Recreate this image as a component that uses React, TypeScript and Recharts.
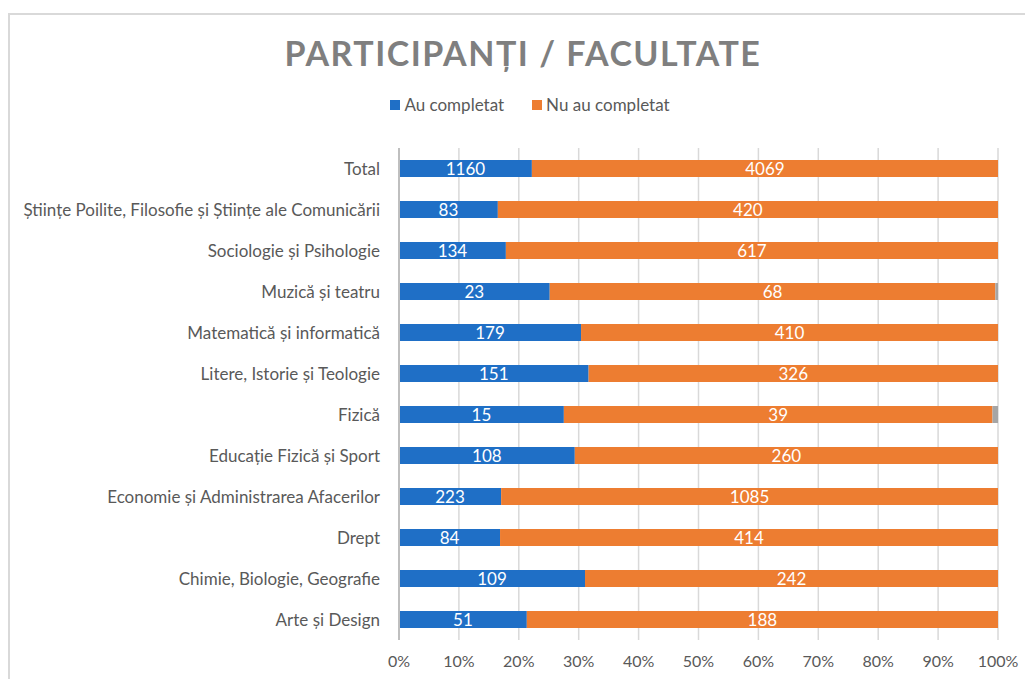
import { BarChart, Bar, XAxis, YAxis, CartesianGrid, LabelList } from 'recharts';

const categories = [
  'Total',
  'Științe Poilite, Filosofie și Științe ale Comunicării',
  'Sociologie și Psihologie',
  'Muzică și teatru',
  'Matematică și informatică',
  'Litere,  Istorie și Teologie',
  'Fizică',
  'Educație Fizică și Sport',
  'Economie și Administrarea Afacerilor',
  'Drept',
  'Chimie, Biologie, Geografie',
  'Arte și Design',
];
const auCompletat = [1160, 83, 134, 23, 179, 151, 15, 108, 223, 84, 109, 51];
const nuAuCompletat = [4069, 420, 617, 68, 410, 326, 39, 260, 1085, 414, 242, 188];
// small unlabelled grey remainder visible on two bars
const altele = [0, 0, 0, 0.4, 0, 0, 0.5, 0, 0, 0, 0, 0];
const percentTicks = [0, 0.1, 0.2, 0.3, 0.4, 0.5, 0.6, 0.7, 0.8, 0.9, 1];

const series = [
  { key: 'au', name: 'Au completat', color: '#1f6fc6' },
  { key: 'nu', name: 'Nu au completat', color: '#ed7d31' },
];

const data = categories.map((name, i) => ({
  name,
  au: auCompletat[i],
  nu: nuAuCompletat[i],
  alt: altele[i],
}));

const FONT = 'Lato, "Open Sans", sans-serif';

export default function App() {
  return (
    <div style={{ position: 'absolute', left: 0, top: 0, width: 1025, height: 679, background: '#fff', fontFamily: FONT, overflow: 'hidden' }}>
      <div
        style={{
          position: 'absolute',
          left: 8,
          top: 13,
          width: 1100,
          height: 800,
          borderLeft: '2px solid #d9d9d9',
          borderTop: '2px solid #d9d9d9',
        }}
      />
      <div
        style={{
          position: 'absolute',
          left: 0,
          width: 1046,
          top: 32,
          textAlign: 'center',
          fontSize: 34,
          fontWeight: 700,
          letterSpacing: 1.5,
          color: '#7f7f7f',
        }}
      >
        PARTICIPANȚI / FACULTATE
      </div>
      <div
        style={{
          position: 'absolute',
          left: 0,
          width: 1060,
          top: 94,
          display: 'flex',
          justifyContent: 'center',
          gap: 28,
          fontSize: 17,
          color: '#595959',
        }}
      >
        {series.map((s) => (
          <div key={s.key} style={{ display: 'flex', alignItems: 'center' }}>
            <span style={{ display: 'inline-block', width: 10, height: 10, background: s.color, marginRight: 4 }} />
            {s.name}
          </div>
        ))}
      </div>
      <BarChart
        width={1025}
        height={679}
        data={data}
        layout="vertical"
        stackOffset="expand"
        margin={{ top: 148, right: 27, bottom: 9, left: 9 }}
        style={{ position: 'absolute', left: 0, top: 0 }}
      >
        <CartesianGrid horizontal={false} stroke="#d9d9d9" strokeWidth={1.5} />
        <XAxis
          type="number"
          domain={[0, 1]}
          ticks={percentTicks}
          tickFormatter={(v: number) => `${Math.round(v * 100)}%`}
          axisLine={false}
          tickLine={false}
          tickMargin={10}
          height={30}
          tick={{ fill: '#595959', fontSize: 16, fontFamily: FONT }}
        />
        <YAxis
          type="category"
          dataKey="name"
          width={390}
          axisLine={{ stroke: '#bfbfbf', strokeWidth: 2 }}
          tickLine={false}
          tickMargin={13}
          interval={0}
          tick={{ fill: '#595959', fontSize: 17, fontFamily: FONT }}
        />
        {series.map((s) => (
          <Bar key={s.key} dataKey={s.key} name={s.name} stackId="a" fill={s.color} barSize={17} isAnimationActive={false}>
            <LabelList dataKey={s.key} position="center" fill="#ffffff" fontSize={17} fontFamily={FONT} />
          </Bar>
        ))}
        <Bar dataKey="alt" name="Altele" stackId="a" fill="#a5a5a5" barSize={17} isAnimationActive={false} />
      </BarChart>
    </div>
  );
}
